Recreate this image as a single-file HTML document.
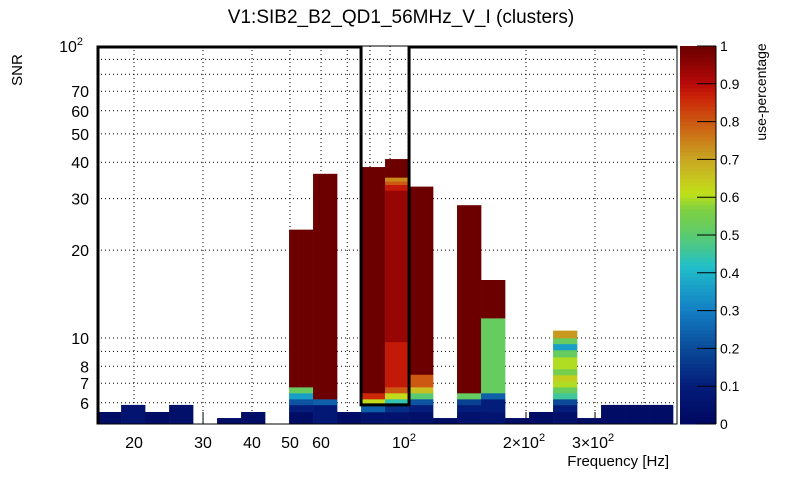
<!DOCTYPE html>
<html><head><meta charset="utf-8"><style>
body{margin:0;background:#fff;}
svg text{font-family:"Liberation Sans",sans-serif;}
</style></head><body>
<svg id="c" width="805" height="472" viewBox="0 0 805 472" xmlns="http://www.w3.org/2000/svg">
<text x="401" y="23" font-size="19" text-anchor="middle">V1:SIB2_B2_QD1_56MHz_V_I (clusters)</text>
<text transform="translate(22,70) rotate(-90)" font-size="15" text-anchor="middle">SNR</text>
<text x="669" y="466" font-size="15" text-anchor="end">Frequency [Hz]</text>
<text transform="translate(766,92) rotate(-90)" font-size="14" text-anchor="middle">use-percentage</text>
<g id="grid"></g><g id="cells"></g><g id="frame"></g><g id="cbar"></g>
</svg>
<script>
// x bins: left edge frequency of first bin & log bin width
const binFreqLo = 16.1;
const binLogWidth = 0.06122;
// per-bin cells: [snrLow, snrHigh, usage]
const binCells = [
 [[5.08,5.58,0.02]],
 [[5.08,5.9,0.06]],
 [[5.08,5.58,0.02]],
 [[5.08,5.9,0.04]],
 [],
 [[5.08,5.32,0.02]],
 [[5.08,5.58,0.03]],
 [],
 [[5.08,5.58,0.02],[5.58,5.9,0.1],[5.9,6.18,0.22],[6.18,6.48,0.36],[6.48,6.79,0.52],[6.79,23.5,1.0]],
 [[5.08,5.9,0.08],[5.9,6.18,0.24],[6.18,36.5,1.0]],
 [[5.08,5.58,0.02]],
 [[5.08,5.58,0.05],[5.58,5.9,0.24],[5.9,6.18,0.62],[6.18,6.48,0.86],[6.48,38.5,1.0]],
 [[5.08,5.58,0.05],[5.58,5.9,0.14],[5.9,6.18,0.44],[6.18,6.48,0.62],[6.48,6.79,0.8],[6.79,9.7,0.88],[9.7,32,0.94],[32,33.5,0.88],[33.5,34.4,0.8],[34.4,35.5,0.74],[35.5,41,1.0]],
 [[5.08,5.58,0.04],[5.58,5.9,0.1],[5.9,6.18,0.22],[6.18,6.48,0.5],[6.48,6.79,0.66],[6.79,7.5,0.8],[7.5,33,1.0]],
 [[5.08,5.32,0.02]],
 [[5.08,5.58,0.05],[5.58,5.9,0.1],[5.9,6.18,0.18],[6.18,6.48,0.52],[6.48,28.5,1.0]],
 [[5.08,5.58,0.06],[5.58,6.18,0.1],[6.18,6.48,0.24],[6.48,11.7,0.52],[11.7,15.8,1.0]],
 [[5.08,5.32,0.02]],
 [[5.08,5.58,0.02]],
 [[5.08,5.58,0.04],[5.58,5.9,0.1],[5.9,6.18,0.2],[6.18,6.48,0.46],[6.48,6.79,0.52],[6.79,7.12,0.6],[7.12,7.47,0.64],[7.47,7.83,0.55],[7.83,8.6,0.6],[8.6,9.1,0.52],[9.1,9.55,0.36],[9.55,10.0,0.52],[10.0,10.6,0.72]],
 [[5.08,5.32,0.02]],
 [[5.08,5.9,0.02]],
 [[5.08,5.9,0.02]],
 [[5.08,5.9,0.02]]
];
const xTicks = [20,30,40,50,60,100,200,300];
const xTickLabels = ["20","30","40","50","60","10²","2×10²","3×10²"];
const xGrid = [20,30,40,50,60,70,80,90,100,200,300,400];
const yTicks = [6,7,8,10,20,30,40,50,60,70,100];
const yTickLabels = ["6","7","8","10","20","30","40","50","60","70","10²"];
const yGrid = [6,7,8,9,10,20,30,40,50,60,70,80,90];
const cbTicks = [0,0.1,0.2,0.3,0.4,0.5,0.6,0.7,0.8,0.9,1];

const NS="http://www.w3.org/2000/svg";
const L=97,R=677,T=46,B=424;
const X=v=>134+392*(Math.log10(v)-Math.log10(20));
const Y=v=>338-292*(Math.log10(v)-1);
const stops=[[0,[0,8,96]],[0.1,[4,28,122]],[0.2,[10,74,152]],[0.3,[18,126,196]],[0.37,[26,164,200]],[0.42,[34,192,200]],[0.47,[72,200,140]],[0.52,[102,204,96]],[0.57,[128,208,64]],[0.61,[192,224,24]],[0.66,[200,192,32]],[0.71,[200,160,32]],[0.76,[204,120,24]],[0.81,[204,80,16]],[0.86,[204,40,8]],[0.9,[184,10,8]],[0.95,[144,4,4]],[1,[108,0,0]]];
function col(u){for(let i=1;i<stops.length;i++){if(u<=stops[i][0]){const a=stops[i-1],b=stops[i],t=(u-a[0])/(b[0]-a[0]);const c=a[1].map((v,k)=>Math.round(v+(b[1][k]-v)*t));return `rgb(${c})`;}}return 'rgb(108,0,0)';}
function mk(tag,attrs,parent){const e=document.createElementNS(NS,tag);for(const k in attrs)e.setAttribute(k,attrs[k]);parent.appendChild(e);return e;}
const g=document.getElementById('grid'),cells=document.getElementById('cells'),fr=document.getElementById('frame'),cb=document.getElementById('cbar');

xGrid.forEach(v=>{const l=mk('line',{x1:X(v),x2:X(v),y1:T,y2:B,stroke:'#000','stroke-width':1,'stroke-dasharray':'1,3'},g);


const t=mk('line',{x1:X(v),x2:X(v),y1:B,y2:B-(xTicks.includes(v)?12:6),stroke:'#000'},g);

});
yGrid.forEach(v=>{const l=mk('line',{x1:L,x2:R,y1:Y(v),y2:Y(v),stroke:'#000','stroke-width':1,'stroke-dasharray':'1,3'},g);

});
xTicks.forEach((v,i)=>{const lab=xTickLabels[i];let t;
if(lab.includes('²')){const base=lab.replace('²','');t=mk('text',{x:X(v)+(base.length>2?-2:-4),y:448,'font-size':16,'text-anchor':'middle'},g);t.textContent=base;const s=mk('tspan',{dy:-7,'font-size':11},t);s.textContent='2';}
else{t=mk('text',{x:X(v),y:448,'font-size':16,'text-anchor':'middle'},g);t.textContent=lab;}

});
yTicks.forEach((v,i)=>{const lab=yTickLabels[i];let t;
if(lab.includes('²')){t=mk('text',{x:83,y:Y(v)+6,'font-size':16,'text-anchor':'end'},g);t.textContent='10';const s=mk('tspan',{dy:-7,'font-size':11},t);s.textContent='2';}
else{t=mk('text',{x:89,y:Y(v)+6,'font-size':16,'text-anchor':'end'},g);t.textContent=lab;}

});

binCells.forEach((bc,i)=>{const f0=binFreqLo*Math.pow(10,i*binLogWidth),f1=binFreqLo*Math.pow(10,(i+1)*binLogWidth);
const x0=X(f0),x1=Math.min(X(f1),R);
bc.forEach(c=>{const r=mk('rect',{x:x0,y:Y(c[1]),width:x1-x0+0.3,height:Y(c[0])-Y(c[1])+0.3,fill:col(c[2])},cells);

});});

const w0=X(binFreqLo*Math.pow(10,11*binLogWidth)),w1=X(binFreqLo*Math.pow(10,13*binLogWidth));
const fx=mk('rect',{x:L,y:T,width:R-L,height:B-T,fill:'none',stroke:'#000','stroke-width':1},fr);


const wp=mk('path',{d:`M${L+1},${B} L${L+1},${T+1} L${w0},${T+1} L${w0},${Y(5.9)} L${w1},${Y(5.9)} L${w1},${T+1} L${R},${T+1}`,fill:'none',stroke:'#000','stroke-width':3},fr);



for(let k=0;k<100;k++){const u0=k/100,y0=B-(B-T)*(k+1)/100;const r=mk('rect',{x:680,y:y0,width:36,height:(B-T)/100+0.5,fill:col(u0+0.005)},cb);

}
mk('line',{x1:716,x2:716,y1:T,y2:B,stroke:'#000'},cb);
cbTicks.forEach(v=>{const y=B-(B-T)*v;const tl=mk('line',{x1:697,x2:716,y1:y,y2:y,stroke:'#000'},cb);


const t=mk('text',{x:720,y:y+5,'font-size':14},cb);t.textContent=String(v);

});
</script>
</body></html>
